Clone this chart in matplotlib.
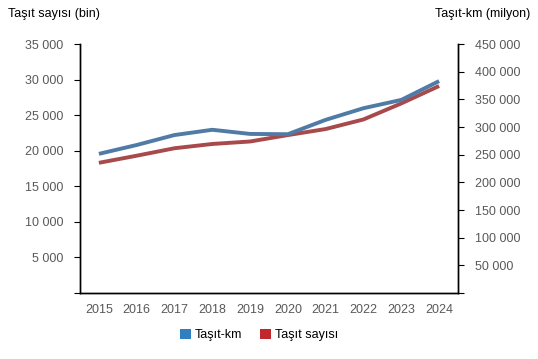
import numpy as np
import matplotlib.pyplot as plt
from matplotlib.ticker import FuncFormatter, MultipleLocator
from matplotlib.patches import Patch

plt.rcParams['font.family'] = ['Liberation Sans', 'DejaVu Sans']

# Data
years = ['2015', '2016', '2017', '2018', '2019', '2020', '2021', '2022', '2023', '2024']
tasit_sayisi = [18300, 19300, 20350, 20950, 21300, 22200, 23050, 24400, 26650, 29100]  # bin, left axis
tasit_km = [251500, 267500, 285500, 295000, 287500, 287000, 313000, 334000, 349000, 383000]  # milyon, right axis

BLUE = '#4f7ba6'
RED = '#a8494b'
GREY = '#595959'


def space_fmt(v, pos):
    if v <= 0:
        return ''
    return f'{int(v):,}'.replace(',', ' ')


fig = plt.figure(figsize=(5.38, 3.59), dpi=100)
ax = fig.add_axes([0.1487, 0.1838, 0.7026, 0.6936])
ax2 = ax.twinx()

x = np.arange(len(years))
ax2.plot(x, tasit_km, color=BLUE, lw=2.8, solid_capstyle='butt', zorder=3)
ax.plot(x, tasit_sayisi, color=RED, lw=2.8, solid_capstyle='butt', zorder=2)

ax.set_xlim(-0.5, len(years) - 0.5)
ax.set_ylim(0, 35000)
ax2.set_ylim(0, 450000)
ax.yaxis.set_major_locator(MultipleLocator(5000))
ax2.yaxis.set_major_locator(MultipleLocator(50000))
ax.yaxis.set_major_formatter(FuncFormatter(space_fmt))
ax2.yaxis.set_major_formatter(FuncFormatter(space_fmt))

ax.set_xticks(x)
ax.set_xticklabels(years)
ax.tick_params(axis='x', length=0, pad=8, labelsize=9, labelcolor=GREY)
ax.tick_params(axis='y', length=4, width=0.8, pad=8, labelsize=9, labelcolor=GREY)
ax2.tick_params(axis='y', length=4, width=0.8, pad=8, labelsize=9, labelcolor=GREY)

for a in (ax, ax2):
    a.spines['top'].set_visible(False)
    for s in ('left', 'right', 'bottom'):
        a.spines[s].set_color('black')
        a.spines[s].set_linewidth(1.0)

fig.text(8 / 538, 1 - 14 / 359, 'Taşıt sayısı (bin)', fontsize=9, color='black',
         ha='left', va='center')
fig.text(530 / 538, 1 - 14 / 359, 'Taşıt-km (milyon)', fontsize=9, color='black',
         ha='right', va='center')

handles = [Patch(facecolor='#2f7fc1', edgecolor='none', label='Taşıt-km'),
           Patch(facecolor='#c0282d', edgecolor='none', label='Taşıt sayısı')]
fig.legend(handles=handles, loc='center', bbox_to_anchor=(259 / 538, 1 - 335 / 359),
           ncol=2, frameon=False, fontsize=9, handlelength=0.9, handleheight=0.9,
           handletextpad=0.3, columnspacing=1.4)

fig.savefig('out.png', dpi=100)
